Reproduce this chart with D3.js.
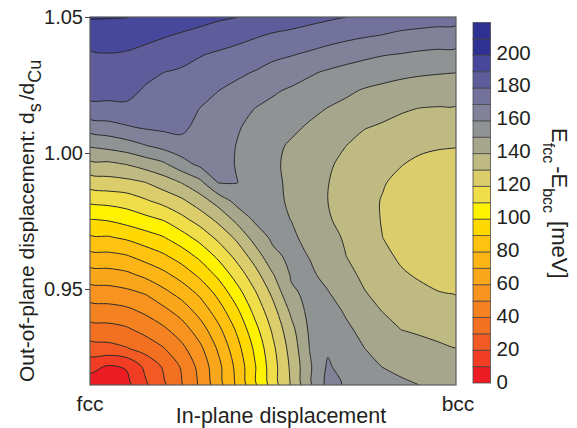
<!DOCTYPE html>
<html>
<head>
<meta charset="utf-8">
<script src="https://cdn.jsdelivr.net/npm/d3@7"></script>
<style>
  body { margin: 0; background: #fff; }
  text { font-family: "Liberation Sans", Arial, sans-serif; fill: #231f20; }
</style>
</head>
<body>
<svg id="chart" width="577" height="428"></svg>
<script>
// energy difference in meV, top row (1.05) first, left column is fcc
var r00 = [200.7,200.5,200.2,199,197,195,193.5,191.5,190.2,188,186,184.5,183,181.5,180,178.4,176.7,175.7,175,174.3,174];
var r01 = [194.5,195,194.4,192.5,190.8,189,187,185,183.3,181,179,177.8,176.1,174.2,172.6,171,169.7,168,167,166.2,165.7];
var r02 = [189,189.8,189.2,187.6,185.4,183.2,180.7,179,177,175,172.4,170.8,168.8,166.5,164.2,162.4,160.8,159.9,158.7,158,157.7];
var r03 = [185.5,186,185.6,183.2,180.1,178.9,176.9,174.6,171.7,169.6,166.6,164.2,161.2,158.9,157,155.3,153.7,152.3,151.3,150.7,150.2];
var r04 = [183,183,183.5,178.7,177,176.3,173.4,170.1,167.8,164.6,161.1,158.8,156.6,154.2,151.6,149.2,147.7,146.3,145.4,144.8,144.5];
var r05 = [177.5,177.5,177.5,174.7,173.9,173.8,169.8,167.5,164.6,159.8,157.7,155.3,152.5,149.6,147.5,144.8,142.8,141,139.7,139.3,139.1];
var r06 = [164.3,166.1,169,171,172,172.5,166.5,166,161.3,156.5,154,152,148.7,146,143.9,140.4,138.9,137.2,135.9,135.1,134.8];
var r07 = [151,153,155.5,159.4,163,166,166,166,159.7,155,152.3,148.7,145.4,142.4,140,136.8,135,133.5,132,131,130.5];
var r08 = [137.5,138,140.3,144.2,148.2,156,162.2,164,159.5,155,151.5,147.9,144.4,141,138.1,135.5,133,130.4,128,126.5,125.8];
var r09 = [124.6,126,127.2,129.7,134.8,140.3,147.4,160.2,160.3,156,152,148.2,144.2,140.2,137,133.9,130.7,127.5,124.5,123,122.5];
var r10 = [112,113,114.5,118.7,123,128,135.3,143.8,153,154.5,152.5,148.5,144.3,140,136.5,133,129.4,125.5,123,122,121.5];
var r11 = [99.8,101,104,107.2,110.6,117.2,124.2,132.4,142.5,151.5,153,149.8,145.4,141,136.5,133,129.5,125,122.5,121.5,121];
var r12 = [88.3,89,91.4,95.3,99.2,105.6,113.2,122.1,131.6,143.7,152,151.8,147,143.7,138.6,133.5,130,126,123.5,122.7,122.5];
var r13 = [76.8,77.5,79.2,83.7,88.3,94.5,102.3,112,122.7,134.4,147.4,152.5,149.7,144.5,140,135.5,132,128.7,125.5,124.5,124];
var r14 = [65.5,66.2,68,72.2,77.4,84,92.2,102.2,114,126,139.5,151,151.5,147.5,142.7,138,134.6,131,129,127,126.5];
var r15 = [55,55.7,57.5,60.6,67,73.7,82,92.8,105.5,118.7,132.4,148.6,152,150.5,145.7,140.5,137,134,132,130.4,129.5];
var r16 = [45.3,46,47.5,51.5,57,63.9,73.4,84.7,97.6,112.5,126.5,141.9,153,153.5,149,144,139.8,136.5,135,134,133.5];
var r17 = [36,36.5,38.5,42.8,48,55,65,77.3,91,106.5,121.7,137,151.5,155.5,151.5,147.7,144,140,138.5,137.3,136.7];
var r18 = [26,27,29.5,34,39.5,47.5,57.7,71.3,86,101.7,118,134,150.2,158.5,153,150,147.5,145.5,143.5,141.5,140];
var r19 = [12.8,9,10.8,22,31,41,53,67,82.5,99,116,132,148.5,161.5,155,152.5,149.8,148,146.5,145,144];
var r20 = [5,1,7,17.9,28,39,51.3,65.5,81.3,98,115,131,148,163,159,156,154,151.5,150,148.5,147];
var rows = [r00,r01,r02,r03,r04,r05,r06,r07,r08,r09,r10,r11,r12,r13,r14,r15,r16,r17,r18,r19,r20];

// one colour per 10 meV band, 0 at the start
var bandColors = ["#ed1c24","#f03d24","#f15a22","#f36f21","#f58220","#f7931e","#faa61a","#fdb515","#ffc20e","#ffd900",
  "#fff200","#efde4a","#dbcd6b","#bfba82","#a6a68c","#8f9393","#81819a","#72729c","#5f5c9c","#47479b","#2e3192","#2e3192"];
var barTicks = [0,20,40,60,80,100,120,140,160,180,200];
var yTicks = [0.95,1.00,1.05];
var yMin = 0.9147, yMax = 1.05;

var svg = d3.select("#chart");
var nx = r00.length, ny = rows.length;

var x = d3.scaleLinear().domain([0,1]).range([90,456]);
var y = d3.scaleLinear().domain([yMin,yMax]).range([385,17]);
var colIndex = d3.scaleLinear().domain([0,nx-1]).range([0,1]);
var rowIndex = d3.scaleLinear().domain([0,ny-1]).range([yMax,yMin]);

var levels = d3.range(10,220,10);
var values = d3.merge(rows);
var contours = d3.contours().size([nx,ny]).thresholds(levels)(values);

// d3.contours puts grid values at cell centres
var ringLine = d3.line()
  .x(function(p) { return x(colIndex(p[0]-0.5)); })
  .y(function(p) { return y(rowIndex(p[1]-0.5)); })
  .curve(d3.curveCatmullRomClosed.alpha(0.5));

function contourPath(c) {
  var s = "";
  c.coordinates.forEach(function(poly) {
    poly.forEach(function(ring) {
      s += ringLine(ring.slice(0,-1));
    });
  });
  return s;
}

svg.append("clipPath").attr("id","plot-clip")
  .append("rect")
  .attr("x",x(0)).attr("y",y(yMax))
  .attr("width",x(1)-x(0)).attr("height",y(yMin)-y(yMax));

var map = svg.append("g").attr("clip-path","url(#plot-clip)");

map.append("rect")
  .attr("x",x(0)).attr("y",y(yMax))
  .attr("width",x(1)-x(0)).attr("height",y(yMin)-y(yMax))
  .attr("fill",bandColors[0]);

map.selectAll(".band")
  .data(contours)
  .enter()
  .append("path")
  .attr("class","band")
  .attr("d",contourPath)
  .attr("fill",function(d) { return bandColors[d.value/10]; })
  .attr("fill-rule","evenodd")
  .attr("stroke","#2b2b2b")
  .attr("stroke-width",1)
  .attr("stroke-linejoin","round");

svg.append("rect")
  .attr("x",x(0)).attr("y",y(yMax))
  .attr("width",x(1)-x(0)).attr("height",y(yMin)-y(yMax))
  .attr("fill","none")
  .attr("stroke","#5a5a5a")
  .attr("stroke-width",1.2);

// left axis
var yAxis = svg.append("g")
  .attr("transform","translate(" + x(0) + ",0)")
  .call(d3.axisLeft(y).tickValues(yTicks).tickSize(5).tickPadding(2).tickFormat(d3.format(".2f")));
yAxis.select(".domain").remove();
yAxis.selectAll("text").style("font-size","20px").attr("fill","#231f20");
yAxis.selectAll("line").attr("stroke","#444");

// colour bar
var bar = d3.scaleLinear().domain([0,220]).range([383,22.5]);
var barLabels = d3.scaleLinear().domain([0,200]).range([381.5,52.5]);
var barX = 473, barW = 17.5;
svg.selectAll(".cell")
  .data(bandColors)
  .enter()
  .append("rect")
  .attr("class","cell")
  .attr("x",barX)
  .attr("y",function(d,i) { return bar((i+1)*10); })
  .attr("width",barW)
  .attr("height",function(d,i) { return bar(i*10)-bar((i+1)*10); })
  .attr("fill",function(d) { return d; })
  .attr("stroke","#444")
  .attr("stroke-opacity",0.75)
  .attr("stroke-width",1);

var barAxis = svg.append("g")
  .attr("transform","translate(" + (barX+barW) + ",0)")
  .call(d3.axisRight(barLabels).tickValues(barTicks).tickSize(0).tickPadding(6));
barAxis.select(".domain").remove();
barAxis.selectAll("text").style("font-size","20.5px").attr("fill","#231f20");

// labels
svg.append("text").attr("x",90).attr("y",411).attr("text-anchor","middle").style("font-size","21px").text("fcc");
svg.append("text").attr("x",458).attr("y",411).attr("text-anchor","middle").style("font-size","21px").text("bcc");
svg.append("text").attr("x",281).attr("y",423).attr("text-anchor","middle").style("font-size","21.5px").text("In-plane displacement");

var yLabel = svg.append("text")
  .attr("transform","translate(34,382) rotate(-90)")
  .style("font-size","21px");
yLabel.append("tspan").text("Out-of-plane displacement: d");
yLabel.append("tspan").attr("dy",7).style("font-size","18px").text("s");
yLabel.append("tspan").attr("dy",-7).attr("dx",3).text("/d");
yLabel.append("tspan").attr("dy",7).style("font-size","18px").text("Cu");

var barLabel = svg.append("text")
  .attr("transform","translate(552,128) rotate(90)")
  .style("font-size","22px");
barLabel.append("tspan").text("E");
barLabel.append("tspan").attr("dy",9).style("font-size","16px").text("fcc");
barLabel.append("tspan").attr("dy",-9).attr("dx",3).text("-E");
barLabel.append("tspan").attr("dy",9).style("font-size","16px").text("bcc");
barLabel.append("tspan").attr("dy",-9).attr("dx",8).text("[meV]");
</script>
</body>
</html>
